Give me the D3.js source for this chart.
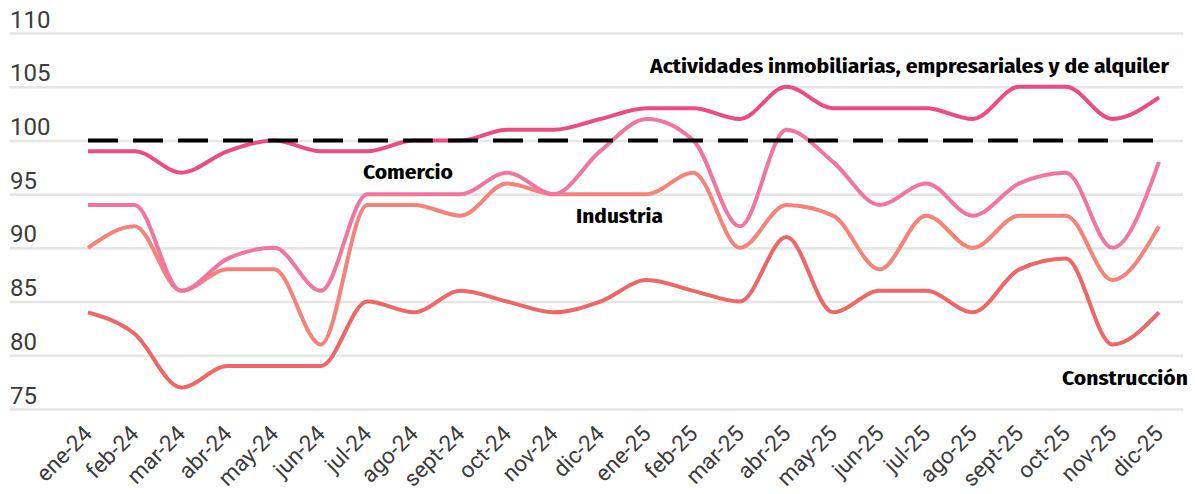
<!DOCTYPE html>
<html>
<head>
<meta charset="utf-8">
<script src="https://cdn.jsdelivr.net/npm/d3@7"></script>
<style>
  body { margin: 0; background: #fff; }
  svg { display: block; }
</style>
</head>
<body>
<svg id="chart" width="1195" height="494"></svg>
<script>
(function() {

  'use strict';

  var months = ['ene-24','feb-24','mar-24','abr-24','may-24','jun-24','jul-24','ago-24','sept-24','oct-24','nov-24','dic-24',
                'ene-25','feb-25','mar-25','abr-25','may-25','jun-25','jul-25','ago-25','sept-25','oct-25','nov-25','dic-25'];

  var actividades  = [99,99,97,99,100,99,99,100,100,101,101,102,103,103,102,105,103,103,103,102,105,105,102,104];
  var comercio     = [94,94,86,89,90,86,95,95,95,97,95,99,102,100,92,101,98,94,96,93,96,97,90,98];
  var industria    = [90,92,86,88,88,81,94,94,93,96,95,95,95,97,90,94,93,88,93,90,93,93,87,92];
  var construccion = [84,82,77,79,79,79,85,84,86,85,84,85,87,86,85,91,84,86,86,84,88,89,81,84];

  var yTicks = [75,80,85,90,95,100,105,110];
  var baseline = 100;

  var series = [
    {name:'Construcción', values:construccion, color:'#f06565'},
    {name:'Industria', values:industria, color:'#f5837a'},
    {name:'Comercio', values:comercio, color:'#f3759f'},
    {name:'Actividades inmobiliarias, empresariales y de alquiler', values:actividades, color:'#ec4c83'}
  ];

  // label placement (x = text end / start, y = baseline)
  var labels = [
    {text:'Actividades inmobiliarias, empresariales y de alquiler', x:1169, y:73, w:519, anchor:'end'},
    {text:'Comercio', x:363, y:179, w:90, anchor:'start'},
    {text:'Industria', x:576, y:223, w:87, anchor:'start'},
    {text:'Construcción', x:1188, y:385, w:126, anchor:'end'}
  ];

  var svg = d3.select('#chart');

  var x = d3.scalePoint().domain(months).range([88, 1159]);
  var y = d3.scaleLinear().domain([75, 110]).range([409, 33]);

  // y grid + labels
  var gy = svg.append('g').attr('transform', 'translate(10,0)')
    .call(d3.axisLeft(y).tickValues(yTicks).tickSize(-1173).tickFormat(d3.format('d')));
  gy.select('.domain').remove();
  gy.selectAll('.tick line').attr('stroke', '#e6e6e6').attr('stroke-width', 2.6);
  gy.selectAll('.tick text')
    .attr('x', 0).attr('dy', -6)
    .attr('text-anchor', 'start')
    .attr('fill', '#3c3c3c')
    .style('font-family', 'Roboto, sans-serif')
    .style('font-size', '24px');

  // x labels
  var gx = svg.append('g').attr('transform', 'translate(0,431)')
    .call(d3.axisBottom(x).tickSize(0));
  gx.select('.domain').remove();
  gx.selectAll('.tick text')
    .attr('y', 0).attr('dy', 0)
    .attr('transform', 'translate(5,4) rotate(-45)')
    .attr('text-anchor', 'end')
    .attr('fill', '#3c3c3c')
    .style('font-family', 'Roboto, sans-serif')
    .style('font-size', '22.5px');

  var line = d3.line()
    .x(function(d, i) { return x(months[i]); })
    .y(function(d) { return y(d); })
    .curve(d3.curveMonotoneX);

  svg.selectAll('.serie').data(series).enter().append('path')
    .attr('class', 'serie')
    .attr('d', function(d) { return line(d.values); })
    .attr('fill', 'none')
    .attr('stroke', function(d) { return d.color; })
    .attr('stroke-width', 4)
    .attr('stroke-linejoin', 'round');

  // reference line at 100
  svg.append('line')
    .attr('x1', x(months[0])).attr('x2', x(months[months.length - 1]))
    .attr('y1', y(baseline)).attr('y2', y(baseline))
    .attr('stroke', '#000')
    .attr('stroke-width', 4)
    .attr('stroke-dasharray', '30,15');

  svg.selectAll('.serieLabel').data(labels).enter().append('text')
    .attr('class', 'serieLabel')
    .attr('x', function(d) { return d.x; })
    .attr('y', function(d) { return d.y; })
    .attr('text-anchor', function(d) { return d.anchor; })
    .attr('textLength', function(d) { return d.w; })
    .attr('lengthAdjust', 'spacingAndGlyphs')
    .style('font-family', "'Fira Sans Condensed','Roboto Condensed','Liberation Sans Narrow','DejaVu Sans Condensed',sans-serif")
    .style('font-weight', 700)
    .style('font-size', '19px')
    .attr('fill', '#000')
    .text(function(d) { return d.text; });

})();
</script>
</body>
</html>
